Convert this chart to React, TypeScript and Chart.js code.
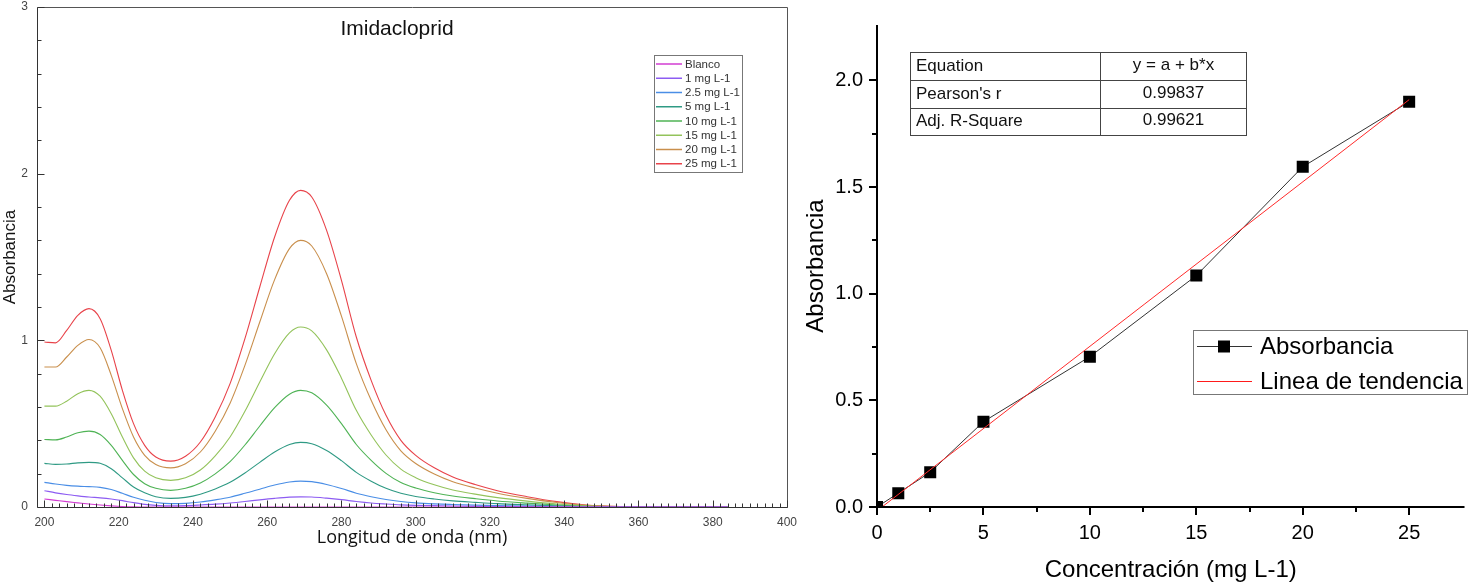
import React, { useEffect, useRef } from 'react';
import { Chart, registerables } from 'chart.js';

Chart.register(...registerables);

const FONT = '"Liberation Sans", Arial, Helvetica, sans-serif';

// ---- UV spectra of the imidacloprid standards ----
const wavelengths = [200, 203, 206, 209, 212, 215, 218, 221, 224, 227, 230, 234, 238, 242, 246, 250, 254, 258, 262, 266, 269, 272, 276, 280, 284, 288, 292, 296, 300, 305, 310, 316, 322, 330, 338, 346, 355, 365, 384];

const blanco = [0.048, 0.04, 0.032, 0.025, 0.018, 0.012, 0.007, 0.003, 0.001, 0, 0, 0, 0, 0, 0, 0, 0, 0, 0, 0, 0, 0, 0, 0, 0, 0, 0, 0, 0, 0, 0, 0, 0, 0, 0, 0, 0, 0, 0];
const mg1 = [0.098, 0.085, 0.075, 0.067, 0.06, 0.055, 0.048, 0.038, 0.026, 0.016, 0.01, 0.007, 0.008, 0.012, 0.017, 0.024, 0.033, 0.043, 0.052, 0.059, 0.061, 0.06, 0.053, 0.044, 0.033, 0.024, 0.018, 0.013, 0.01, 0.008, 0.006, 0.004, 0.003, 0.002, 0.001, 0, 0, 0, 0];
const mg2p5 = [0.148, 0.138, 0.13, 0.125, 0.122, 0.118, 0.105, 0.082, 0.058, 0.04, 0.027, 0.02, 0.022, 0.03, 0.043, 0.059, 0.082, 0.107, 0.132, 0.15, 0.155, 0.152, 0.135, 0.111, 0.083, 0.062, 0.045, 0.033, 0.025, 0.019, 0.015, 0.011, 0.008, 0.005, 0.003, 0.001, 0, 0, 0];
const mg5 = [0.262, 0.256, 0.258, 0.265, 0.268, 0.262, 0.23, 0.175, 0.12, 0.085, 0.062, 0.052, 0.058, 0.077, 0.108, 0.148, 0.204, 0.268, 0.33, 0.375, 0.388, 0.38, 0.339, 0.278, 0.208, 0.155, 0.112, 0.082, 0.063, 0.048, 0.037, 0.028, 0.02, 0.013, 0.007, 0.002, 0.001, 0, 0];
const mg10 = [0.405, 0.403, 0.42, 0.445, 0.455, 0.435, 0.37, 0.28, 0.195, 0.14, 0.112, 0.1, 0.112, 0.144, 0.199, 0.272, 0.372, 0.486, 0.596, 0.677, 0.7, 0.685, 0.611, 0.5, 0.375, 0.28, 0.202, 0.147, 0.114, 0.086, 0.066, 0.05, 0.036, 0.023, 0.012, 0.004, 0.001, 0, 0];
const mg15 = [0.605, 0.605, 0.635, 0.68, 0.7, 0.665, 0.56, 0.42, 0.295, 0.215, 0.175, 0.16, 0.175, 0.222, 0.307, 0.42, 0.574, 0.75, 0.92, 1.045, 1.08, 1.057, 0.943, 0.773, 0.58, 0.432, 0.312, 0.227, 0.176, 0.133, 0.102, 0.077, 0.056, 0.035, 0.018, 0.007, 0.002, 0.001, 0];
const mg20 = [0.84, 0.84, 0.9, 0.97, 1.005, 0.955, 0.79, 0.59, 0.42, 0.31, 0.255, 0.235, 0.26, 0.33, 0.455, 0.623, 0.85, 1.11, 1.364, 1.55, 1.6, 1.566, 1.4, 1.145, 0.86, 0.64, 0.463, 0.337, 0.261, 0.198, 0.152, 0.114, 0.083, 0.052, 0.027, 0.01, 0.0025, 0.001, 0];
const mg25 = [0.99, 0.985, 1.06, 1.15, 1.19, 1.13, 0.94, 0.7, 0.5, 0.37, 0.3, 0.275, 0.305, 0.39, 0.54, 0.74, 1.01, 1.32, 1.62, 1.84, 1.9, 1.86, 1.66, 1.36, 1.02, 0.76, 0.55, 0.4, 0.31, 0.235, 0.18, 0.135, 0.098, 0.062, 0.032, 0.012, 0.003, 0.001, 0];

const spectraLabels = ['Blanco', '1 mg L-1', '2.5 mg L-1', '5 mg L-1', '10 mg L-1', '15 mg L-1', '20 mg L-1', '25 mg L-1'];
const spectraColors = ['#d23cd2', '#8d5cf2', '#4a8ee6', '#2f9a84', '#4fb355', '#93c35b', '#c98f4c', '#e8434a'];
const spectraXTicks = [200, 220, 240, 260, 280, 300, 320, 340, 360, 380, 400];
const spectraYTicks = [0, 1, 2, 3];

// ---- Calibration curve ----
const concentrations = [0, 1, 2.5, 5, 10, 15, 20, 25];
const absorbances = [0, 0.065, 0.163, 0.4, 0.705, 1.085, 1.595, 1.9];
const trendX = [0, 25];
const trendY = [-0.018, 1.91];
const calXTicks = [0, 5, 10, 15, 20, 25];
const calXMinor = [2.5, 7.5, 12.5, 17.5, 22.5];
const calYTicks = [0, 0.5, 1, 1.5, 2];
const calYMinor = [0.25, 0.75, 1.25, 1.75];
const fitNames = ['Equation', "Pearson's r", 'Adj. R-Square'];
const fitValues = ['y = a + b*x', '0.99837', '0.99621'];

const crisp = (v: number) => Math.round(v) + 0.5;

const spectraDecor = {
  id: 'spectraDecor',
  afterDraw(chart: any) {
    const { ctx, chartArea: a } = chart;
    const xs = chart.scales.x;
    const ys = chart.scales.y;
    const L = crisp(a.left), R = crisp(a.right), T = crisp(a.top), B = crisp(a.bottom);
    ctx.save();
    ctx.lineWidth = 1;
    ctx.strokeStyle = '#555';
    ctx.beginPath();
    ctx.moveTo(L, T);
    ctx.lineTo(R, T);
    ctx.lineTo(R, B);
    ctx.stroke();

    ctx.strokeStyle = '#333';
    ctx.beginPath();
    ctx.moveTo(L, T);
    ctx.lineTo(L, B);
    ctx.lineTo(R, B);
    for (let v = 200; v <= 400; v += 2) {
      const px = crisp(xs.getPixelForValue(v));
      const len = v % 20 === 0 ? 7 : 4;
      ctx.moveTo(px, B);
      ctx.lineTo(px, B - len);
    }
    for (let i = 0; i <= 15; i++) {
      const py = crisp(ys.getPixelForValue(i * 0.2));
      const len = i % 5 === 0 ? 7 : 4;
      ctx.moveTo(L, py);
      ctx.lineTo(L + len, py);
    }
    ctx.stroke();

    // chart title
    ctx.fillStyle = '#111';
    ctx.font = `21px ${FONT}`;
    ctx.textAlign = 'center';
    ctx.textBaseline = 'middle';
    ctx.fillText('Imidacloprid', 397, 29);

    // legend
    const bx = 654.5, by = 55.5, bw = 88, bh = 117;
    ctx.fillStyle = '#fff';
    ctx.fillRect(bx, by, bw, bh);
    ctx.strokeStyle = '#777';
    ctx.lineWidth = 1;
    ctx.strokeRect(bx, by, bw, bh);
    ctx.font = `11.5px ${FONT}`;
    ctx.textAlign = 'left';
    spectraLabels.forEach((lab, i) => {
      const yy = 64 + i * 14.25;
      ctx.strokeStyle = spectraColors[i];
      ctx.lineWidth = 1.5;
      ctx.beginPath();
      ctx.moveTo(656, yy);
      ctx.lineTo(682, yy);
      ctx.stroke();
      ctx.fillStyle = '#333';
      ctx.fillText(lab, 685, yy + 0.5);
    });
    ctx.restore();
  },
};

const calibrationDecor = {
  id: 'calibrationDecor',
  afterDraw(chart: any) {
    const { ctx, chartArea: a } = chart;
    const xs = chart.scales.x;
    const ys = chart.scales.y;
    const L = Math.round(a.left), B = Math.round(a.bottom);
    ctx.save();
    ctx.strokeStyle = '#000';
    ctx.lineWidth = 2;
    ctx.beginPath();
    ctx.moveTo(L, a.top);
    ctx.lineTo(L, B + 1);
    ctx.moveTo(L - 1, B);
    ctx.lineTo(a.right, B);
    calYTicks.forEach((v) => {
      const py = Math.round(ys.getPixelForValue(v));
      ctx.moveTo(L, py);
      ctx.lineTo(L - 8, py);
    });
    calYMinor.forEach((v) => {
      const py = Math.round(ys.getPixelForValue(v));
      ctx.moveTo(L, py);
      ctx.lineTo(L - 5, py);
    });
    calXTicks.forEach((v) => {
      const px = Math.round(xs.getPixelForValue(v));
      ctx.moveTo(px, B);
      ctx.lineTo(px, B + 8);
    });
    calXMinor.forEach((v) => {
      const px = Math.round(xs.getPixelForValue(v));
      ctx.moveTo(px, B);
      ctx.lineTo(px, B + 5);
    });
    ctx.stroke();

    // fit statistics table
    const tl = 110.5, tr = 446.5, tt = 52.5, tb = 135.5, col = 300.5;
    const rowH = (tb - tt) / 3;
    ctx.lineWidth = 1;
    ctx.strokeStyle = '#444';
    ctx.fillStyle = '#fff';
    ctx.fillRect(tl, tt, tr - tl, tb - tt);
    ctx.strokeRect(tl, tt, tr - tl, tb - tt);
    ctx.beginPath();
    ctx.moveTo(col, tt);
    ctx.lineTo(col, tb);
    for (let k = 1; k < 3; k++) {
      const yy = crisp(tt + k * rowH);
      ctx.moveTo(tl, yy);
      ctx.lineTo(tr, yy);
    }
    ctx.stroke();
    ctx.font = `17px ${FONT}`;
    ctx.fillStyle = '#111';
    ctx.textBaseline = 'middle';
    fitNames.forEach((name, k) => {
      const yy = tt + (k + 0.5) * rowH;
      ctx.textAlign = 'left';
      ctx.fillText(name, 116, yy);
      ctx.textAlign = 'center';
      ctx.fillText(fitValues[k], (col + tr) / 2, yy - 1);
    });

    // legend
    const lx = 393.5, ly = 330.5, lw = 274, lh = 64;
    ctx.fillStyle = '#fff';
    ctx.fillRect(lx, ly, lw, lh);
    ctx.strokeStyle = '#777';
    ctx.strokeRect(lx, ly, lw, lh);
    ctx.lineWidth = 1;
    ctx.strokeStyle = '#333';
    ctx.beginPath();
    ctx.moveTo(397, 346.5);
    ctx.lineTo(452, 346.5);
    ctx.stroke();
    ctx.fillStyle = '#000';
    ctx.fillRect(418, 340.5, 12, 12);
    ctx.strokeStyle = '#ff1a1a';
    ctx.lineWidth = 1.2;
    ctx.beginPath();
    ctx.moveTo(397, 381.5);
    ctx.lineTo(452, 381.5);
    ctx.stroke();
    ctx.font = `24px ${FONT}`;
    ctx.textAlign = 'left';
    ctx.fillStyle = '#000';
    ctx.fillText('Absorbancia', 460, 347);
    ctx.fillText('Linea de tendencia', 460, 382);
    ctx.restore();
  },
};

export default function App() {
  const leftRef = useRef<HTMLCanvasElement>(null);
  const rightRef = useRef<HTMLCanvasElement>(null);

  useEffect(() => {
    const spectra = [blanco, mg1, mg2p5, mg5, mg10, mg15, mg20, mg25];
    const left = new Chart(leftRef.current as HTMLCanvasElement, {
      type: 'line',
      data: {
        datasets: spectra.map((vals, i) => ({
          label: spectraLabels[i],
          data: wavelengths.map((w, j) => ({ x: w, y: vals[j] })),
          borderColor: spectraColors[i],
          borderWidth: 1.1,
          pointRadius: 0,
          cubicInterpolationMode: 'monotone' as const,
          fill: false,
        })),
      },
      options: {
        responsive: false,
        animation: false,
        devicePixelRatio: 1,
        events: [],
        layout: { padding: { left: 0, top: 7, right: 13, bottom: 0 } },
        plugins: { legend: { display: false }, tooltip: { enabled: false } },
        scales: {
          x: {
            type: 'linear',
            min: 198,
            max: 400,
            afterBuildTicks: (s: any) => {
              s.ticks = spectraXTicks.map((v) => ({ value: v }));
            },
            afterFit: (s: any) => {
              s.height = 76;
              s.paddingLeft = 0;
              s.paddingRight = 0;
            },
            grid: { display: false, drawTicks: false },
            border: { display: false },
            ticks: {
              autoSkip: false,
              maxRotation: 0,
              padding: 8,
              color: '#444',
              font: { family: FONT, size: 12 },
              callback: (v: any) => String(v),
            },
            title: {
              display: true,
              text: 'Longitud de onda (nm)',
              color: '#111',
              font: { family: '"Open Sans", sans-serif', size: 18, lineHeight: 1 },
              padding: { top: 0, bottom: 36 },
            },
          },
          y: {
            type: 'linear',
            min: 0,
            max: 3,
            afterBuildTicks: (s: any) => {
              s.ticks = spectraYTicks.map((v) => ({ value: v }));
            },
            afterFit: (s: any) => {
              s.width = 37;
              s.paddingTop = 0;
              s.paddingBottom = 0;
            },
            grid: { display: false, drawTicks: false },
            border: { display: false },
            ticks: {
              autoSkip: false,
              padding: 9,
              color: '#444',
              font: { family: FONT, size: 12 },
              callback: (v: any) => String(v),
            },
            title: {
              display: true,
              text: 'Absorbancia',
              color: '#111',
              font: { family: FONT, size: 17, lineHeight: 1 },
              padding: { top: 1.5, bottom: 0 },
            },
          },
        },
      },
      plugins: [spectraDecor],
    } as any);

    const right = new Chart(rightRef.current as HTMLCanvasElement, {
      type: 'line',
      data: {
        datasets: [
          {
            label: 'Linea de tendencia',
            data: trendX.map((x, i) => ({ x, y: trendY[i] })),
            borderColor: '#ff2a2a',
            borderWidth: 1,
            pointRadius: 0,
            tension: 0,
            fill: false,
          },
          {
            label: 'Absorbancia',
            data: concentrations.map((x, i) => ({ x, y: absorbances[i] })),
            borderColor: '#333',
            borderWidth: 1,
            pointStyle: 'rect',
            pointRadius: 8.5,
            pointBorderWidth: 0,
            pointBackgroundColor: '#000',
            pointBorderColor: '#000',
            tension: 0,
            fill: false,
          },
        ],
      },
      options: {
        responsive: false,
        animation: false,
        devicePixelRatio: 1,
        events: [],
        layout: { padding: { left: 0, top: 25, right: 3, bottom: 0 } },
        plugins: { legend: { display: false }, tooltip: { enabled: false } },
        scales: {
          x: {
            type: 'linear',
            min: 0,
            max: 27.6,
            afterBuildTicks: (s: any) => {
              s.ticks = calXTicks.map((v) => ({ value: v }));
            },
            afterFit: (s: any) => {
              s.height = 76;
              s.paddingLeft = 0;
              s.paddingRight = 0;
            },
            grid: { display: false, drawTicks: false },
            border: { display: false },
            ticks: {
              autoSkip: false,
              maxRotation: 0,
              padding: 14,
              color: '#000',
              font: { family: FONT, size: 20 },
              callback: (v: any) => String(v),
            },
            title: {
              display: true,
              text: 'Concentración (mg L-1)',
              color: '#000',
              font: { family: FONT, size: 24, lineHeight: 1 },
              padding: { top: 0, bottom: 1 },
            },
          },
          y: {
            type: 'linear',
            min: 0,
            max: 2.26,
            afterBuildTicks: (s: any) => {
              s.ticks = calYTicks.map((v) => ({ value: v }));
            },
            afterFit: (s: any) => {
              s.width = 77;
              s.paddingTop = 0;
              s.paddingBottom = 0;
            },
            grid: { display: false, drawTicks: false },
            border: { display: false },
            ticks: {
              autoSkip: false,
              padding: 14,
              color: '#000',
              font: { family: FONT, size: 20 },
              callback: (v: any) => Number(v).toFixed(1),
            },
            title: {
              display: true,
              text: 'Absorbancia',
              color: '#000',
              font: { family: FONT, size: 24, lineHeight: 1 },
              padding: { top: 4, bottom: 0 },
            },
          },
        },
      },
      plugins: [calibrationDecor],
    } as any);

    return () => {
      left.destroy();
      right.destroy();
    };
  }, []);

  return (
    <div style={{ position: 'absolute', left: 0, top: 0, width: 1473, height: 583, background: '#fff' }}>
      <canvas
        ref={leftRef}
        width={800}
        height={583}
        style={{ position: 'absolute', left: 0, top: 0, width: 800, height: 583 }}
      />
      <canvas
        ref={rightRef}
        width={673}
        height={583}
        style={{ position: 'absolute', left: 800, top: 0, width: 673, height: 583 }}
      />
    </div>
  );
}
